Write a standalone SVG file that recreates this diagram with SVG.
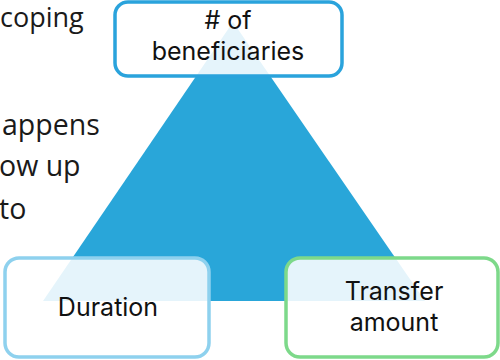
<svg xmlns="http://www.w3.org/2000/svg" width="500" height="360" viewBox="0 0 500 360">
  <style>
    .side { font-family: "Open Sans", "Liberation Sans", sans-serif; font-size: 28.5px; fill: #1a1a1a; }
    .box { fill: #ffffff; fill-opacity: 0.88; stroke-width: 3.5; }
    .label { font-family: Inter, "Liberation Sans", sans-serif; font-size: 25px; fill: #111111; text-anchor: middle; }
  </style>
  <rect width="500" height="360" fill="#ffffff"/>

  <!-- side text -->
  <g id="side-text">
    <text class="side" x="0" y="27" style="font-size:27px">coping</text>
    <text class="side" x="2" y="135">appens</text>
    <text class="side" x="-1" y="176">ow up</text>
    <text class="side" x="-1" y="219">to</text>
  </g>

  <!-- triangle -->
  <g id="connectors">
    <polygon points="233,22 43,301 425,301" fill="#29A6D9"/>
  </g>

  <g id="node-beneficiaries">
    <rect class="box" x="115" y="2" width="227" height="74" rx="13" stroke="#2AA3DC"/>
    <text class="label" x="228" y="29"># of</text>
    <text class="label" x="228" y="60">beneficiaries</text>
  </g>

  <g id="node-duration">
    <rect class="box" x="5" y="258" width="204" height="99" rx="14" stroke="#8ED1EE"/>
    <text class="label" x="108" y="316">Duration</text>
  </g>

  <g id="node-transfer">
    <rect class="box" x="286" y="258" width="212" height="99" rx="14" stroke="#7DD98A"/>
    <text class="label" x="394" y="300">Transfer</text>
    <text class="label" x="394" y="331">amount</text>
  </g>
</svg>
